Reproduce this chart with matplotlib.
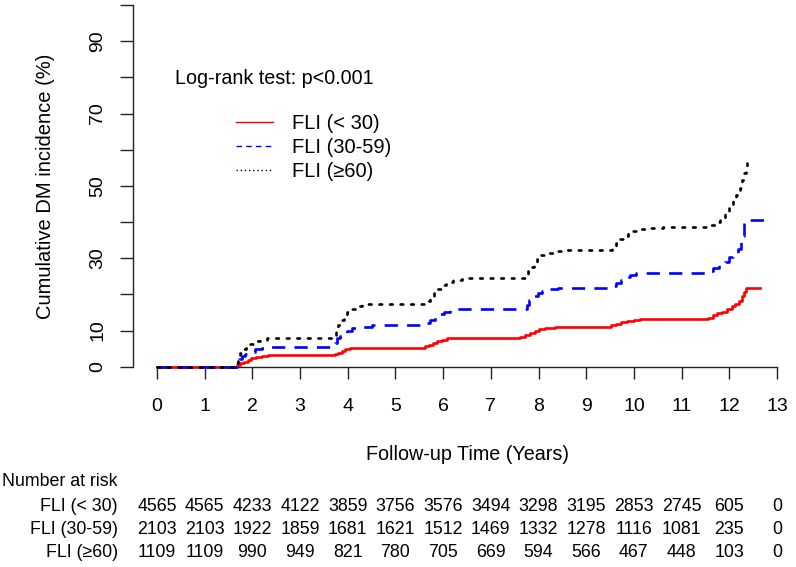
import numpy as np
import matplotlib
matplotlib.use("Agg")
import matplotlib.pyplot as plt
from matplotlib.lines import Line2D
from matplotlib.transforms import blended_transform_factory

plt.rcParams['font.family'] = ['Liberation Sans', 'DejaVu Sans']

# ---------------- data ----------------
groups = ["FLI (< 30)", "FLI (30-59)", "FLI (\u226560)"]
colors = ["#ff0000", "#0000ff", "#000000"]

# cumulative incidence (%) step curves
t_low = [0, 1.68, 1.75, 1.82, 1.90, 1.98, 2.08, 2.20, 2.32, 3.74, 3.80, 3.87, 3.95, 4.05, 4.20,
         5.62, 5.70, 5.78, 5.87, 5.97, 6.08, 6.25, 7.62, 7.72, 7.82, 7.92, 8.02, 8.14, 8.35,
         9.52, 9.62, 9.72, 9.85, 10.00, 10.12, 11.55, 11.65, 11.75, 11.85, 11.95, 12.05, 12.12,
         12.20, 12.26, 12.31, 12.36, 12.64]
v_low = [0, 0.4, 0.9, 1.4, 1.9, 2.3, 2.6, 2.9, 3.1, 3.4, 3.9, 4.4, 4.8, 5.1, 5.3,
         5.6, 6.1, 6.6, 7.1, 7.5, 7.8, 8.0, 8.3, 8.8, 9.4, 9.9, 10.3, 10.6, 10.9,
         11.4, 11.9, 12.3, 12.7, 13.0, 13.2, 13.6, 14.2, 14.8, 15.2, 15.9, 16.7, 17.4,
         18.3, 19.5, 20.6, 21.7, 21.7]

t_mid = [0, 1.68, 1.72, 1.78, 1.85, 1.93, 2.05, 2.20, 2.35, 3.74, 3.78, 3.83, 3.90, 3.98, 4.08,
         4.25, 4.50, 5.62, 5.72, 5.82, 5.92, 6.02, 6.15, 6.30, 7.76, 7.80, 7.88, 7.98, 8.08,
         8.20, 8.40, 9.52, 9.62, 9.72, 9.82, 9.92, 10.05, 10.20, 11.53, 11.65, 11.78, 11.90,
         12.00, 12.08, 12.18, 12.25, 12.30, 12.72]
v_mid = [0, 1.0, 2.0, 3.0, 3.6, 4.2, 4.8, 5.2, 5.4, 6.5, 7.8, 8.5, 9.3, 10.0, 10.6,
         11.0, 11.4, 12.2, 13.0, 13.8, 14.5, 15.2, 15.7, 15.9, 17.0, 18.5, 19.5, 20.3, 21.0,
         21.5, 21.7, 22.4, 23.2, 24.0, 24.8, 25.4, 25.8, 26.0, 26.5, 27.2, 28.0, 29.0,
         30.2, 31.5, 32.5, 36.0, 40.6, 40.7]

t_high = [0, 1.66, 1.70, 1.75, 1.80, 1.87, 1.95, 2.05, 2.15, 2.30, 3.72, 3.76, 3.80, 3.86, 3.92,
          3.98, 4.05, 4.15, 4.30, 5.64, 5.72, 5.80, 5.88, 5.96, 6.05, 6.20, 6.40, 7.72, 7.78,
          7.84, 7.90, 7.96, 8.03, 8.12, 8.30, 8.60, 9.55, 9.62, 9.70, 9.78, 9.87, 9.97, 10.10,
          10.30, 10.60, 11.60, 11.70, 11.80, 11.90, 12.00, 12.08, 12.15, 12.22, 12.27, 12.31,
          12.35, 12.38]
v_high = [0, 1.0, 2.5, 3.8, 4.8, 5.6, 6.4, 7.0, 7.5, 7.8, 8.5, 10.0, 11.5, 12.8, 14.0,
          15.2, 16.0, 16.8, 17.3, 18.2, 19.2, 20.3, 21.4, 22.5, 23.4, 24.0, 24.4, 25.3, 26.4,
          27.6, 28.8, 29.9, 30.8, 31.5, 32.0, 32.4, 33.3, 34.3, 35.3, 36.2, 37.0, 37.6, 38.0,
          38.3, 38.5, 39.2, 40.0, 40.8, 42.2, 44.0, 46.0, 47.5, 49.5, 51.5, 53.5,
          55.0, 56.2]

risk_times = list(range(14))
risk_low = [4565, 4565, 4233, 4122, 3859, 3756, 3576, 3494, 3298, 3195, 2853, 2745, 605, 0]
risk_mid = [2103, 2103, 1922, 1859, 1681, 1621, 1512, 1469, 1332, 1278, 1116, 1081, 235, 0]
risk_high = [1109, 1109, 990, 949, 821, 780, 705, 669, 594, 566, 467, 448, 103, 0]

y_ticks = list(range(0, 101, 10))
y_labels = ["0", "10", "", "30", "", "50", "", "70", "", "90", ""]

# ---------------- figure ----------------
W, H = 796, 567
fig = plt.figure(figsize=(W / 100, H / 100), dpi=100)
ax = fig.add_axes([157 / W, 1 - 366.7 / H, 620 / W, 361.7 / H])

curves = [(t_low, v_low), (t_mid, v_mid), (t_high, v_high)]
styles = [dict(linestyle="-"),
          dict(linestyle=(0, (5, 3.5))),
          dict(linestyle=(0, (1, 3)), dash_capstyle="round")]
for (t, v), col, st in zip(curves, colors, styles):
    ax.plot(t, v, drawstyle="steps-post", color=col, lw=1.9, clip_on=False, zorder=3, **st)

ax.set_xlim(0, 13)
ax.set_ylim(0, 100)

for s in ["top", "right"]:
    ax.spines[s].set_visible(False)
ax.spines["left"].set_position(("outward", 17.3))
for s in ["left", "bottom"]:
    ax.spines[s].set_linewidth(1.0)
    ax.spines[s].set_color("#222222")
ax.tick_params(axis="x", length=8.6, width=1.0, color="#222222", labelsize=14, pad=14)
ax.tick_params(axis="y", length=9.4, width=1.0, color="#222222", labelsize=14, pad=10,
               labelrotation=90)

ax.set_xticks(risk_times)
ax.set_yticks(y_ticks)
ax.set_yticklabels(y_labels)
for lab in ax.get_yticklabels():
    lab.set_verticalalignment("center")

fig.text(467 / W, 1 - 455 / H, "Follow-up Time (Years)", ha="center", va="center", fontsize=14.2)
fig.text(46 / W, 1 - 186 / H, "Cumulative DM incidence (%)", ha="center", va="center",
         rotation=90, fontsize=14.5)

# legend
fig.text(175 / W, 1 - 79 / H, "Log-rank test: p<0.001", ha="left", va="center", fontsize=14.2)
handles = [Line2D([], [], color=colors[0], lw=1.0, linestyle="-"),
           Line2D([], [], color=colors[1], lw=1.0, linestyle=(0, (4, 3))),
           Line2D([], [], color=colors[2], lw=1.0, linestyle=(0, (1, 2)))]
ax.legend(handles, groups, loc="upper left", bbox_to_anchor=(236 / W, 1 - 114 / H),
          bbox_transform=fig.transFigure, frameon=False, fontsize=14.5, handlelength=1.85,
          handletextpad=0.95, labelspacing=0.26, borderpad=0, borderaxespad=0)

# number at risk table
tr = blended_transform_factory(ax.transData, fig.transFigure)
fig.text(2 / W, 1 - 481 / H, "Number at risk", ha="left", va="center", fontsize=12.8)
row_y = [506.5, 529.5, 552.5]
for name, counts, yy in zip(groups, [risk_low, risk_mid, risk_high], row_y):
    fig.text(118 / W, 1 - yy / H, name, ha="right", va="center", fontsize=12.8)
    for tt, n in zip(risk_times, counts):
        ax.text(tt, 1 - yy / H, str(n), transform=tr, ha="center", va="center",
                fontsize=12.8, clip_on=False)

fig.savefig("out.png", dpi=100)
